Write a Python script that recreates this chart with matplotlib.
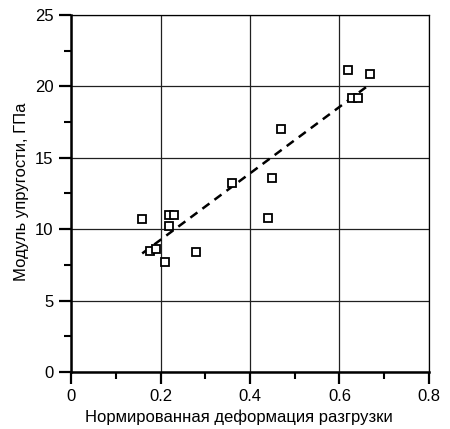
import matplotlib
matplotlib.use("Agg")
import matplotlib.pyplot as plt
from matplotlib.ticker import MultipleLocator

plt.rcParams['font.family'] = ['Liberation Sans', 'DejaVu Sans']

# Measured points
strain = [0.159, 0.177, 0.189, 0.210, 0.220, 0.219, 0.231, 0.279,
          0.360, 0.440, 0.450, 0.469, 0.619, 0.629, 0.641, 0.668]
modulus = [10.7, 8.5, 8.6, 7.7, 10.2, 11.0, 11.0, 8.4,
           13.2, 10.8, 13.6, 17.0, 21.15, 19.2, 19.2, 20.9]

# Trend line endpoints
trend_x = [0.159, 0.664]
trend_y = [8.3, 20.05]

x_ticks = [0, 0.2, 0.4, 0.6, 0.8]
x_labels = ['0', '0.2', '0.4', '0.6', '0.8']
y_ticks = [0, 5, 10, 15, 20, 25]

fig = plt.figure(figsize=(4.5, 4.29), dpi=100)
ax = fig.add_axes([0.158, 0.133, 0.795, 0.832])

ax.set_xlim(0, 0.8)
ax.set_ylim(0, 25)
ax.set_xticks(x_ticks)
ax.set_xticklabels(x_labels)
ax.set_yticks(y_ticks)
ax.xaxis.set_minor_locator(MultipleLocator(0.1))
ax.yaxis.set_minor_locator(MultipleLocator(2.5))

ax.grid(True, which='major', color='#202020', linewidth=0.9)
ax.set_axisbelow(True)

ax.plot(trend_x, trend_y, color='black', linestyle=(0, (3.5, 2.5)), linewidth=1.8, zorder=3)
ax.plot(strain, modulus, linestyle='none', marker='s', markersize=5.2,
        markerfacecolor='white', markeredgecolor='black', markeredgewidth=1.3, zorder=4)

for side in ['left', 'bottom']:
    ax.spines[side].set_linewidth(1.8)
for side in ['top', 'right']:
    ax.spines[side].set_linewidth(0.9)

ax.tick_params(which='major', direction='out', length=8.5, width=1.6, labelsize=12,
               colors='black', pad=4)
ax.tick_params(which='minor', direction='out', length=5, width=1.5)
ax.tick_params(top=False, right=False, which='both')

ax.set_xlabel('Нормированная деформация разгрузки', fontsize=12)
ax.set_ylabel('Модуль упругости, ГПа', fontsize=12)
ax.xaxis.set_label_coords(0.468, -0.104)
ax.yaxis.set_label_coords(-0.118, 0.505)

fig.savefig('out.png', dpi=100)
